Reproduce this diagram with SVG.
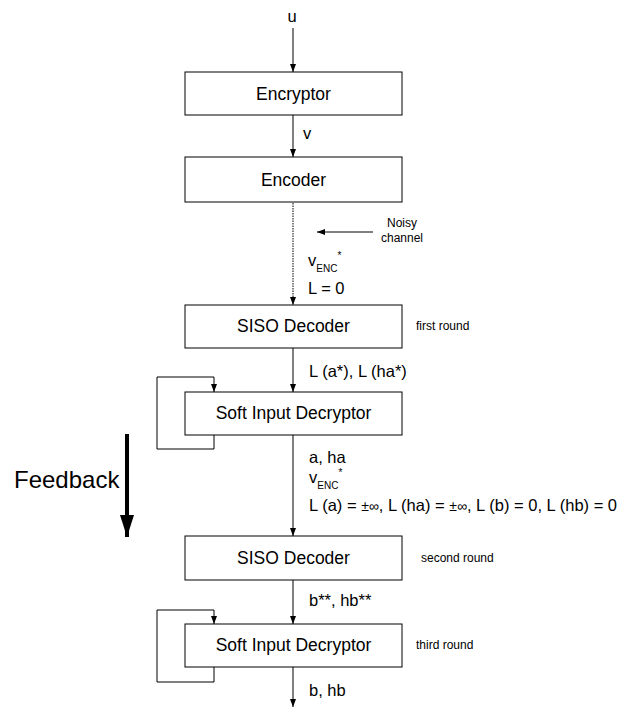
<svg xmlns="http://www.w3.org/2000/svg" width="637" height="707" viewBox="0 0 637 707">
<style>
  .box{fill:#fff;stroke:#000;stroke-width:1}
  .bt{font-family:"Liberation Sans",Arial,sans-serif;font-size:17.5px;fill:#000;text-anchor:middle}
  .lb{font-family:"Liberation Sans",Arial,sans-serif;font-size:16.5px;fill:#000}
  .sm{font-family:"Liberation Sans",Arial,sans-serif;font-size:12px;fill:#000}
  .sub{font-size:10px}
  .pm{font-size:14px}
  .ln{fill:none;stroke:#000;stroke-width:1}
</style>
<defs>
  <marker id="ah" markerUnits="userSpaceOnUse" markerWidth="8" markerHeight="8" viewBox="0 0 8 8" refX="8" refY="4" orient="auto">
    <path d="M0,1 L8,4 L0,7 Z" fill="#000"/>
  </marker>
  <marker id="bh" markerUnits="userSpaceOnUse" markerWidth="22" markerHeight="14" viewBox="0 0 22 14" refX="22" refY="7" orient="auto">
    <path d="M0,0 L22,7 L0,14 Z" fill="#000"/>
  </marker>
</defs>
<rect width="637" height="707" fill="#fff"/>
<g id="connectors">
  <line class="ln" x1="293" y1="28" x2="293" y2="72" marker-end="url(#ah)"/>
  <line class="ln" x1="293" y1="115" x2="293" y2="157" marker-end="url(#ah)"/>
  <line class="ln" x1="293" y1="203" x2="293" y2="305" stroke-dasharray="1.5,1" marker-end="url(#ah)"/>
  <line class="ln" x1="373" y1="232" x2="317" y2="232" marker-end="url(#ah)"/>
  <line class="ln" x1="293" y1="348" x2="293" y2="392" marker-end="url(#ah)"/>
  <path class="ln" d="M214,435 V449 H157 V377 H214 V392" marker-end="url(#ah)"/>
  <line class="ln" x1="293" y1="435" x2="293" y2="536" marker-end="url(#ah)"/>
  <line class="ln" x1="293" y1="580" x2="293" y2="624" marker-end="url(#ah)"/>
  <path class="ln" d="M214,667 V682 H157 V610 H214 V624" marker-end="url(#ah)"/>
  <line class="ln" x1="293" y1="667" x2="293" y2="707" marker-end="url(#ah)"/>
  <line x1="127" y1="434" x2="127" y2="537" stroke="#000" stroke-width="4" marker-end="url(#bh)"/>
</g>
<g id="labels">
  <text class="lb" x="292" y="22" text-anchor="middle">u</text>
  <text class="lb" x="303" y="139">v</text>
  <text class="sm" x="402" y="227" text-anchor="middle">Noisy</text>
  <text class="sm" x="402" y="242" text-anchor="middle">channel</text>
  <text class="lb" x="308" y="266">v<tspan class="sub" dy="6">ENC</tspan><tspan class="sub" dy="-13">*</tspan></text>
  <text class="lb" x="308" y="294">L = 0</text>
  <text class="sm" x="416" y="330">first round</text>
  <text class="lb" x="309" y="377">L (a*), L (ha*)</text>
  <text class="lb" x="309" y="463">a, ha</text>
  <text class="lb" x="309" y="483">v<tspan class="sub" dy="6">ENC</tspan><tspan class="sub" dy="-13">*</tspan></text>
  <text class="lb" x="309" y="511">L (a) = <tspan class="pm">±∞</tspan>, L (ha) = <tspan class="pm">±∞</tspan>, L (b) = 0, L (hb) = 0</text>
  <text x="14" y="488" font-family="Liberation Sans, Arial, sans-serif" font-size="24px">Feedback</text>
  <text class="sm" x="421" y="562">second round</text>
  <text class="lb" x="309" y="606">b**, hb**</text>
  <text class="sm" x="416" y="649">third round</text>
  <text class="lb" x="309" y="696">b, hb</text>
</g>
<g id="encryptor"><rect class="box" x="185" y="72" width="217" height="43"/><text class="bt" x="293.5" y="100">Encryptor</text></g>
<g id="encoder"><rect class="box" x="185" y="157" width="217" height="45"/><text class="bt" x="293.5" y="186">Encoder</text></g>
<g id="siso1"><rect class="box" x="185" y="305" width="217" height="43"/><text class="bt" x="293.5" y="332">SISO Decoder</text></g>
<g id="sid1"><rect class="box" x="185" y="392" width="217" height="43"/><text class="bt" x="293.5" y="419">Soft Input Decryptor</text></g>
<g id="siso2"><rect class="box" x="185" y="536" width="217" height="44"/><text class="bt" x="293.5" y="564">SISO Decoder</text></g>
<g id="sid2"><rect class="box" x="185" y="624" width="217" height="43"/><text class="bt" x="293.5" y="651">Soft Input Decryptor</text></g>
</svg>
